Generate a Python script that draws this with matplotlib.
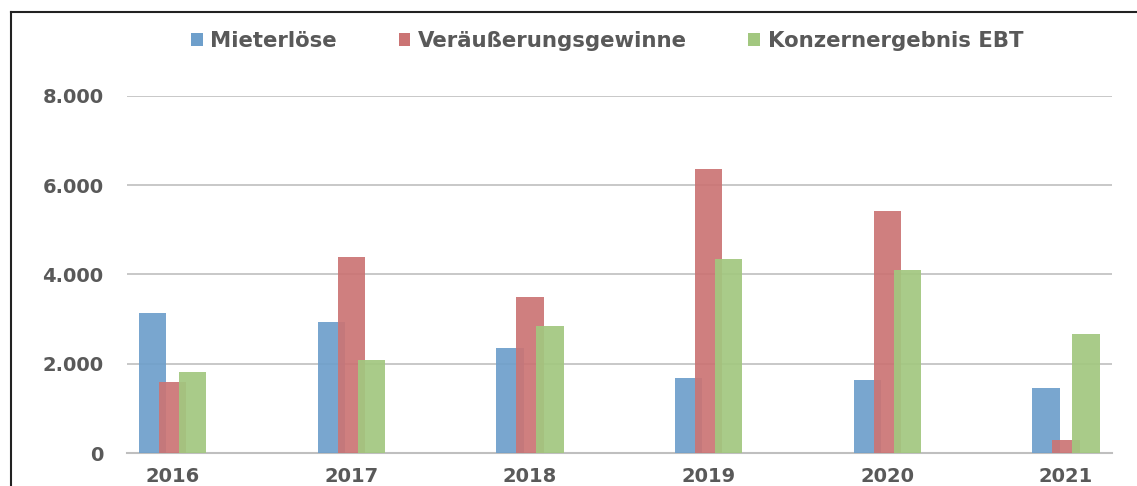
import matplotlib.pyplot as plt
import numpy as np
from matplotlib.lines import Line2D
from matplotlib.patches import Patch

years = ["2016", "2017", "2018", "2019", "2020", "2021"]
mieterloese = [3130, 2940, 2355, 1680, 1640, 1460]
veraeusserung = [1590, 4395, 3500, 6370, 5425, 290]
konzern_ebt = [1815, 2085, 2850, 4350, 4105, 2670]

series_names = ["Mieterlöse", "Veräußerungsgewinne", "Konzernergebnis EBT"]
colors = ["#6E9FCB", "#CB7474", "#A2C77F"]

plt.rcParams["font.family"] = ["DejaVu Sans"]
plt.rcParams["font.weight"] = "bold"

fig = plt.figure(figsize=(11.37, 4.86), dpi=100)
ax = fig.add_axes([0.1117, 0.0679, 0.8663, 0.7346])

x = np.arange(len(years))
width = 0.152
offset = 0.112
for i, (vals, col) in enumerate(zip([mieterloese, veraeusserung, konzern_ebt], colors)):
    ax.bar(x + (i - 1) * offset, vals, width, color=col, alpha=0.92, zorder=3 + i,
           edgecolor="none")

ax.set_xlim(-0.255, 5.257)
ax.set_ylim(0, 8000)
ax.set_yticks([0, 2000, 4000, 6000, 8000])
ax.set_yticklabels(["0", "2.000", "4.000", "6.000", "8.000"])
ax.set_xticks(x)
ax.set_xticklabels(years)
ax.grid(axis="y", color="#BFBFBF", linewidth=1.2, zorder=0)
for s in ["top", "right", "left"]:
    ax.spines[s].set_visible(False)
ax.spines["bottom"].set_color("#BFBFBF")
ax.spines["bottom"].set_linewidth(1.5)
ax.tick_params(axis="both", length=0, labelsize=14, colors="#595959")
ax.tick_params(axis="y", pad=17)
ax.tick_params(axis="x", pad=10)
for lab in ax.get_xticklabels() + ax.get_yticklabels():
    lab.set_fontweight("bold")

handles = [Patch(facecolor=c, edgecolor="none") for c in colors]
fig.legend(handles, series_names, loc="center", bbox_to_anchor=(0.534, 0.916), ncol=3,
           frameon=False, fontsize=15.3, handlelength=0.55, handleheight=0.55,
           handletextpad=0.35, columnspacing=2.9, labelcolor="#595959")

# border of the original chart box (top and left edges only)
fig.add_artist(Line2D([11 / 1137, 1], [1 - 12 / 486, 1 - 12 / 486], color="#222222", lw=1.5,
                      transform=fig.transFigure))
fig.add_artist(Line2D([11 / 1137, 11 / 1137], [0, 1 - 12 / 486], color="#222222", lw=1.5,
                      transform=fig.transFigure))

fig.savefig("out.png", dpi=100)
